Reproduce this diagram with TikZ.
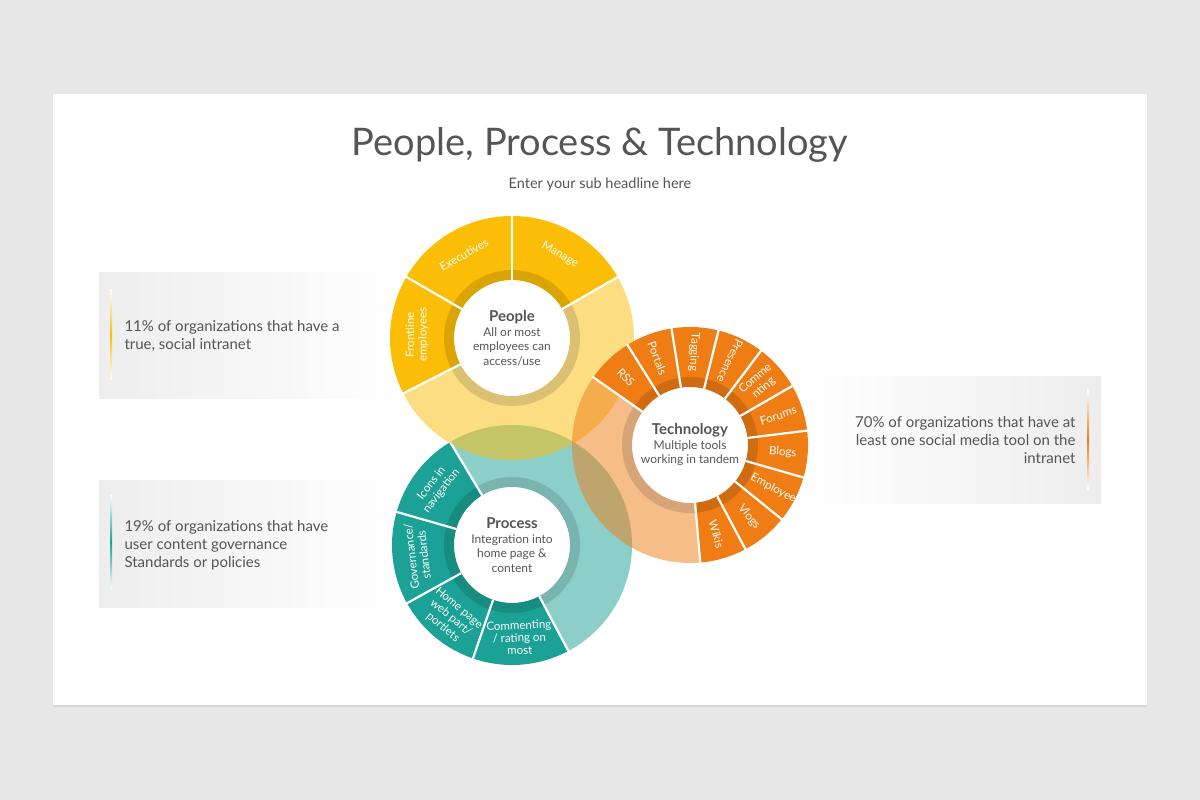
\documentclass[tikz,border=0pt]{standalone}
\usepackage{fontspec}
\setmainfont{Lato}
\usetikzlibrary{calc,shadows}
\definecolor{bg}{HTML}{E8E7E8}
\definecolor{ylw}{HTML}{FBBD06}
\definecolor{tea}{HTML}{1BA195}
\definecolor{org}{HTML}{F07C14}
\definecolor{txt}{HTML}{555555}
\newcommand\annsec[5]{\fill[#5] ([shift={(#1:#4)}]#3) arc[start angle=#1,end angle=#2,radius=#4] -- ([shift={(#2:58)}]#3) arc[start angle=#2,end angle=#1,radius=58] -- cycle;}
\newcommand\divl[3]{\draw[white,line width=2.2pt] ([shift={(#2:58)}]#1) -- ([shift={(#2:#3)}]#1);}
\tikzset{seg/.style={text=white,font=\fontsize{11.5}{12.5}\selectfont,align=center,inner sep=0},
ctitle/.style={text=txt,font=\fontsize{12}{14.5}\selectfont,align=center},
side/.style={text=txt,font=\fontsize{15}{18}\selectfont,align=left,anchor=west}}
\begin{document}
\begin{tikzpicture}[x=1pt,y=1pt]
\useasboundingbox (0,0) rectangle (1200,800);
\fill[bg] (0,0) rectangle (1200,800);
\fill[white,drop shadow={opacity=0.15,shadow xshift=0,shadow yshift=-2}] (53,95) rectangle (1147,706);
\node[text=txt,font=\fontsize{38}{40}\selectfont] (title) at (600,655) {People, Process \& Technology};
\node[text=txt,font=\fontsize{14.5}{16}\selectfont] (sub) at (600,616) {Enter your sub headline here};
% side panels
\shade[left color=black!7,right color=white] (99,401) rectangle (400,527);
\shade[left color=black!7,right color=white] (99,192) rectangle (400,319);
\shade[right color=black!7,left color=white] (800,296) rectangle (1101,423);
\shade[top color=white,bottom color=white,middle color=ylw] (110,420) rectangle (112,510);
\shade[top color=white,bottom color=white,middle color=tea] (110,210) rectangle (112,305);
\shade[top color=white,bottom color=white,middle color=org] (1087,310) rectangle (1089,410);
\node[side] (t1) at (121,464) {11\% of organizations that have a\\true, social intranet};
\node[side] (t2) at (121,255) {19\% of organizations that have\\user content governance\\Standards or policies};
\node[side,anchor=east,align=right] (t3) at (1079,360) {70\% of organizations that have at\\least one social media tool on the\\intranet};
\coordinate (P) at (512,462);
\coordinate (T) at (690,355);
\coordinate (R) at (512,255);
% Process
\annsec{-62}{121}{R}{120}{tea,opacity=0.5}
\annsec{121}{298}{R}{120}{tea}
\fill[black,opacity=0.13,even odd rule] (R) circle (68) (R) circle (58);
\foreach \a in {121,164,209,251,298} {\divl{R}{\a}{121}}
% People
\annsec{207}{390}{P}{122}{ylw,opacity=0.5}
\annsec{30}{207}{P}{122}{ylw}
\fill[black,opacity=0.13,even odd rule] (P) circle (68) (P) circle (58);
\foreach \a in {30,90,150,207} {\divl{P}{\a}{123}}
% Technology
\annsec{145}{275}{T}{118}{org,opacity=0.5}
\annsec{-85}{145}{T}{118}{org}
\fill[black,opacity=0.13,even odd rule] (T) circle (68) (T) circle (58);
\foreach \a in {-85,-62,-39,-16,7,30,53,76,99,122,145} {\divl{T}{\a}{119}}
\fill[white] (P) circle (57.5) (T) circle (57.5) (R) circle (57.5);
% center texts
\node[ctitle] (pc) at (P) {{\fontsize{15}{17}\selectfont\bfseries People}\\All or most\\employees can\\access/use};
\node[ctitle] (tc) at (T) {{\fontsize{15}{17}\selectfont\bfseries Technology}\\Multiple tools\\working in tandem};
\node[ctitle] (rc) at (R) {{\fontsize{15}{17}\selectfont\bfseries Process}\\Integration into\\home page \&\\content};
% People segments
\node[seg,rotate=30] (p1) at ([shift={(120:96)}]P) {Executives};
\node[seg,rotate=-30] (p2) at ([shift={(60:96)}]P) {Manage};
\node[seg,rotate=90] (p3) at ([shift={(178:95)}]P) {Frontline\\employees};
% Tech segments
\node[seg,rotate=-46.5] (s1) at ([shift={(133.5:93)}]T) {RSS};
\node[seg,rotate=-69.5] (s2) at ([shift={(110.5:93)}]T) {Portals};
\node[seg,rotate=-92.5] (s3) at ([shift={(87.5:93)}]T) {Tagging};
\node[seg,rotate=-115.5] (s4) at ([shift={(64.5:93)}]T) {Presence};
\node[seg,rotate=41.5] (s5) at ([shift={(41.5:93)}]T) {Comme\\nting};
\node[seg,rotate=18.5] (s6) at ([shift={(18.5:93)}]T) {Forums};
\node[seg,rotate=-4.5] (s7) at ([shift={(-4.5:93)}]T) {Blogs};
\node[seg,rotate=-27.5] (s8) at ([shift={(-27.5:94)}]T) {Employee};
\node[seg,rotate=-50.5] (s9) at ([shift={(-50.5:93)}]T) {Vlogs};
\node[seg,rotate=-73.5] (s10) at ([shift={(-73.5:93)}]T) {Wikis};
% Process segments
\node[seg,rotate=52.5] (r1) at ([shift={(142.5:95)}]R) {Icons in\\navigation};
\node[seg,rotate=96.5] (r2) at ([shift={(186.5:95)}]R) {Governance/\\standards};
\node[seg,rotate=-40] (r3) at ([shift={(230:95)}]R) {Home page\\web part/\\portlets};
\node[seg,rotate=2] (r4) at ([shift={(274.5:93)}]R) {Commenting\\/ rating on\\most};
\end{tikzpicture}
\end{document}
